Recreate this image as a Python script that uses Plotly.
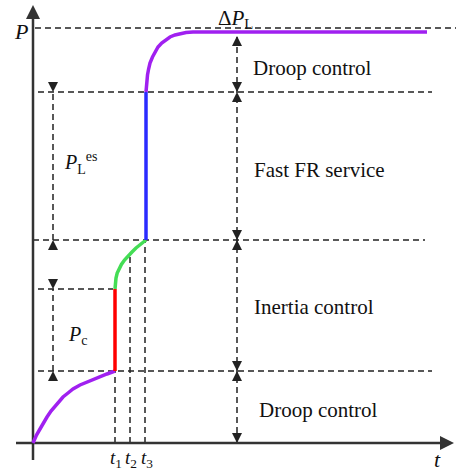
import plotly.graph_objects as go

# ---- switching instants (time units) ----
T1, T2, T3 = 82, 97, 113

# ---- power levels ----
P_DROOP1 = 72      # end of first droop stage
P_C_TOP = 154      # top of the Pc step
P_INERTIA = 203    # end of inertia control
P_FFR = 351        # end of fast FR service
P_FINAL = 411      # settled output
P_DELTA = 415      # load step level (Delta P_L)

# ---- curve samples ----
droop1_t = [0, 1.5, 3.5, 7, 10, 14, 18, 22, 26, 30, 35, 40, 47, 54, 60, 67, 74, 82]
droop1_p = [0, 4, 8, 14, 19.5, 26, 32, 37, 42, 46, 50, 54, 58, 61, 63.5, 66, 69, 72]

step_t = [T1, T1]
step_p = [P_DROOP1, P_C_TOP]

inertia_t = [82, 82.3, 83, 84.2, 86, 88.4, 91.5, 94.8, 99, 103, 108, 113]
inertia_p = [154, 160, 165, 170, 174.5, 178.5, 183, 187, 191, 195, 199, 203]

ffr_t = [T3, T3]
ffr_p = [P_INERTIA, P_FFR]

droop2_t = [113, 113.2, 113.7, 114.5, 115.6, 117, 119.5, 122, 125, 128.7, 133, 137, 142, 147, 153, 160, 174, 394]
droop2_p = [351, 356, 362, 368, 374, 380, 386, 391, 396, 400, 403.5, 406, 408, 409.5, 410.5, 411, 411, 411]

# ---- region labels ----
region_names = ["Droop control", "Fast FR service", "Inertia control", "Droop control"]
region_x = [218, 219, 219, 224]
region_y = [375, 273, 136, 33]

tick_names = ["<i>t</i><sub>1</sub>", "<i>t</i><sub>2</sub>", "<i>t</i><sub>3</sub>"]
tick_t = [T1, T2, T3]

FONT = "Liberation Serif, DejaVu Serif, serif"
DASH = "6px,4px"
DARK = "#222222"

fig = go.Figure()

def dashed(xs, ys):
    fig.add_trace(go.Scatter(x=xs, y=ys, mode="lines",
                             line=dict(color=DARK, width=1.5, dash=DASH),
                             hoverinfo="skip"))

# horizontal guide lines
dashed([2, 423], [P_DELTA, P_DELTA])
dashed([5, 399], [P_FFR, P_FFR])
dashed([0, 392], [P_INERTIA, P_INERTIA])
dashed([5, 80], [P_C_TOP, P_C_TOP])
dashed([5, 399], [P_DROOP1, P_DROOP1])

# vertical guide lines at the switching instants
dashed([T1, T1], [0, P_DROOP1])
dashed([T2, T2], [0, 186])
dashed([T3 - 1, T3 - 1], [0, P_INERTIA])

# dimension lines
ARROW_X = 204
LEFT_X = 20
dashed([ARROW_X, ARROW_X], [0, 407])
dashed([LEFT_X, LEFT_X], [P_INERTIA, P_FFR])
dashed([LEFT_X, LEFT_X], [P_DROOP1, P_C_TOP])

up_x = [ARROW_X, ARROW_X, ARROW_X, ARROW_X, LEFT_X, LEFT_X]
up_y = [P_FFR, P_INERTIA, P_DROOP1, 0, P_FFR, P_C_TOP]
down_x = [ARROW_X, ARROW_X, ARROW_X, ARROW_X, LEFT_X, LEFT_X]
down_y = [407, P_FFR, P_INERTIA, P_DROOP1, P_INERTIA, P_DROOP1]

# heads pointing towards each bounding level
fig.add_trace(go.Scatter(x=down_x, y=down_y, mode="markers",
                         marker=dict(symbol="arrow-up", size=10, color=DARK),
                         hoverinfo="skip"))
fig.add_trace(go.Scatter(x=up_x, y=up_y, mode="markers",
                         marker=dict(symbol="arrow-down", size=10, color=DARK),
                         hoverinfo="skip"))

# axes
AX = "#333333"
fig.add_trace(go.Scatter(x=[0, 0], y=[-17, 428], mode="lines",
                         line=dict(color=AX, width=2.5), hoverinfo="skip"))
fig.add_trace(go.Scatter(x=[-17, 411], y=[0, 0], mode="lines",
                         line=dict(color=AX, width=2.5), hoverinfo="skip"))
fig.add_trace(go.Scatter(x=[0], y=[438], mode="markers",
                         marker=dict(symbol="arrow-up", size=14, color=AX),
                         hoverinfo="skip"))
fig.add_trace(go.Scatter(x=[421], y=[0], mode="markers",
                         marker=dict(symbol="arrow-right", size=14, color=AX),
                         hoverinfo="skip"))

# power response segments
W = 3.5
fig.add_trace(go.Scatter(x=droop1_t, y=droop1_p, mode="lines",
                         line=dict(color="#a020f0", width=W),
                         hoverinfo="skip"))
fig.add_trace(go.Scatter(x=step_t, y=step_p, mode="lines",
                         line=dict(color="#ff0000", width=W), hoverinfo="skip"))
fig.add_trace(go.Scatter(x=inertia_t, y=inertia_p, mode="lines",
                         line=dict(color="#44dd55", width=W),
                         hoverinfo="skip"))
fig.add_trace(go.Scatter(x=ffr_t, y=ffr_p, mode="lines",
                         line=dict(color="#2b2bff", width=W), hoverinfo="skip"))
fig.add_trace(go.Scatter(x=droop2_t, y=droop2_p, mode="lines",
                         line=dict(color="#a020f0", width=W),
                         hoverinfo="skip"))

annotations = []
for name, x, y in zip(region_names, region_x, region_y):
    annotations.append(dict(x=x, y=y, text=name, showarrow=False,
                            xanchor="left", yanchor="middle",
                            font=dict(family=FONT, size=21, color="#111")))
for name, t in zip(tick_names, tick_t):
    annotations.append(dict(x=t + 1, y=-15.5, text=name, showarrow=False,
                            xanchor="center", yanchor="middle",
                            font=dict(family=FONT, size=19, color="#111")))

annotations += [
    dict(x=-12, y=412, text="<i>P</i>", showarrow=False,
         xanchor="center", yanchor="middle",
         font=dict(family=FONT, size=22, color="#111")),
    dict(x=404, y=-16, text="<i>t</i>", showarrow=False,
         xanchor="center", yanchor="middle",
         font=dict(family=FONT, size=22, color="#111")),
    dict(x=202, y=424, text="Δ<i>P</i><sub>L</sub>", showarrow=False,
         xanchor="center", yanchor="middle",
         font=dict(family=FONT, size=21, color="#111")),
    dict(x=29, y=280, text="<i>P</i><sub>L</sub><sup>es</sup>", showarrow=False,
         xanchor="left", yanchor="middle",
         font=dict(family=FONT, size=20, color="#111")),
    dict(x=33, y=108, text="<i>P</i><sub>c</sub>", showarrow=False,
         xanchor="left", yanchor="middle",
         font=dict(family=FONT, size=20, color="#111")),
]

fig.update_layout(
    width=456, height=471,
    margin=dict(l=0, r=0, t=0, b=0, pad=0),
    paper_bgcolor="white", plot_bgcolor="white",
    showlegend=False,
    font=dict(family=FONT),
    xaxis=dict(range=[-33, 423], visible=False, fixedrange=True),
    yaxis=dict(range=[-28, 443], visible=False, fixedrange=True),
    annotations=annotations,
)

fig.write_html("out.html")
